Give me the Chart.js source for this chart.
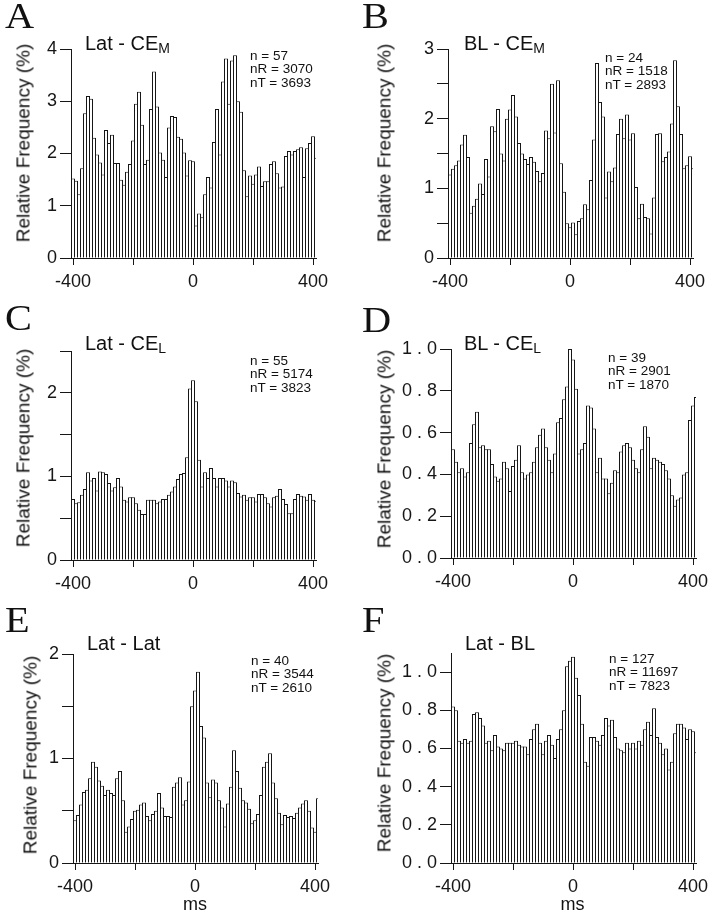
<!DOCTYPE html>
<html>
<head>
<meta charset="utf-8">
<title>Cross-correlation histograms</title>
<script src="https://cdn.jsdelivr.net/npm/chart.js@4.4.1/dist/chart.umd.min.js"></script>
<style>
  html, body { margin: 0; padding: 0; background: #fff; }
  body { width: 710px; height: 923px; position: relative; overflow: hidden;
         font-family: "Liberation Sans", Arial, Helvetica, sans-serif; color: #111; }
  canvas { position: absolute; }
  .t { position: absolute; white-space: nowrap; line-height: 1; }
  .letter { font-family: "Liberation Serif", "Times New Roman", serif; transform-origin: 0 100%; }
  .sub { font-size: 14px; position: relative; top: 3px; }
  .ytitle { position: absolute; white-space: nowrap; line-height: 1; font-size: 19px;
            transform: translate(-50%, -50%) rotate(-90deg); }
</style>
</head>
<body>
<script>
// --- data ------------------------------------------------------------------
// bin centres (ms), 10 ms bins; the last one is only half visible at the right edge
const lagsMs = [];
for (let t = -400; t <= 410; t += 10) lagsMs.push(t);

// relative frequency (%) per bin
const latCEm = [1.52,1.48,1.22,1.72,2.77,3.10,3.05,2.30,1.98,1.83,
  1.60,2.45,2.20,2.36,1.82,1.82,1.50,1.40,1.65,1.80,
  2.25,2.95,3.18,2.55,1.80,1.88,2.85,3.57,2.90,2.02,
  1.88,1.55,2.50,2.72,2.70,2.32,2.28,2.02,1.58,1.87,
  1.85,0.62,0.85,0.78,1.22,1.55,1.35,2.22,2.85,1.98,
  3.38,3.82,2.95,3.78,3.88,3.00,2.80,1.68,1.18,1.58,
  1.42,1.60,1.75,1.38,1.47,1.47,1.80,1.85,1.62,1.35,
  1.37,1.95,2.05,1.98,2.05,2.08,2.12,1.55,2.10,2.20,
  2.33,1.92];
const blCEm = [1.20,1.28,1.33,1.40,1.63,1.77,1.45,0.65,0.75,0.85,
  1.07,0.92,1.42,1.17,1.89,1.82,2.14,1.50,1.40,2.00,
  2.13,2.34,2.03,1.65,1.50,1.42,1.35,1.45,1.38,1.25,
  1.10,1.22,1.83,1.72,2.50,1.80,2.55,1.36,0.95,0.50,
  0.44,0.51,0.34,0.53,0.57,0.77,0.70,1.12,1.70,2.80,
  2.24,2.03,0.87,1.24,1.10,1.30,1.78,2.00,1.72,2.06,
  1.70,1.79,1.02,0.57,0.78,0.59,0.57,0.35,0.87,1.78,
  1.79,1.39,1.45,1.53,1.93,2.84,2.18,1.78,1.29,1.33,
  1.46,1.29];
const latCEl = [0.73,0.68,0.69,0.78,0.85,1.05,0.95,0.98,0.83,1.06,
  1.05,1.03,0.92,0.83,0.87,0.98,0.88,0.72,0.70,0.75,
  0.75,0.68,0.60,0.55,0.55,0.72,0.72,0.72,0.68,0.70,
  0.73,0.73,0.78,0.82,0.88,0.97,1.03,1.04,1.23,2.05,
  2.15,1.90,1.20,0.88,1.05,0.98,1.10,0.98,0.88,0.98,
  0.98,0.95,0.88,0.95,0.93,0.80,0.76,0.78,0.72,0.75,
  0.75,0.70,0.79,0.79,0.75,0.68,0.64,0.75,0.77,0.85,
  0.73,0.67,0.56,0.56,0.73,0.79,0.77,0.76,0.72,0.79,
  0.72,0.71];
const blCEl = [0.52,0.46,0.41,0.43,0.39,0.41,0.55,0.64,0.70,0.53,
  0.54,0.52,0.52,0.45,0.39,0.37,0.38,0.46,0.43,0.32,
  0.44,0.47,0.54,0.41,0.38,0.40,0.41,0.46,0.53,0.59,
  0.62,0.53,0.47,0.41,0.50,0.65,0.67,0.76,0.82,1.00,
  0.95,0.81,0.50,0.52,0.55,0.73,0.72,0.62,0.41,0.48,
  0.38,0.38,0.31,0.36,0.42,0.41,0.51,0.54,0.55,0.53,
  0.47,0.43,0.41,0.52,0.63,0.58,0.43,0.48,0.47,0.46,
  0.45,0.42,0.38,0.30,0.25,0.28,0.29,0.40,0.41,0.66,
  0.73,0.77];
const latLat = [0.41,0.46,0.56,0.68,0.70,0.81,0.97,0.92,0.79,0.74,
  0.65,0.70,0.67,0.65,0.81,0.88,0.60,0.30,0.35,0.42,
  0.50,0.51,0.56,0.58,0.45,0.41,0.47,0.50,0.67,0.53,
  0.45,0.45,0.44,0.73,0.77,0.82,0.56,0.60,0.78,1.50,
  1.65,1.83,1.31,1.20,0.77,0.63,0.80,0.77,0.60,0.53,
  0.35,0.57,0.73,1.08,0.88,0.72,0.60,0.58,0.52,0.38,
  0.41,0.47,0.65,0.92,0.97,1.05,0.77,0.62,0.48,0.37,
  0.46,0.44,0.45,0.43,0.48,0.53,0.57,0.60,0.50,0.34,
  0.30,0.62];
const latBL = [0.82,0.80,0.64,0.63,0.65,0.63,0.64,0.78,0.79,0.76,
  0.72,0.63,0.64,0.59,0.67,0.61,0.60,0.59,0.63,0.63,
  0.63,0.64,0.62,0.61,0.61,0.57,0.65,0.70,0.73,0.63,
  0.57,0.64,0.67,0.62,0.55,0.65,0.70,0.80,1.03,1.06,
  1.08,0.97,0.88,0.73,0.53,0.51,0.66,0.66,0.64,0.62,
  0.67,0.76,0.72,0.75,0.66,0.60,0.59,0.58,0.63,0.60,
  0.63,0.60,0.64,0.62,0.70,0.74,0.67,0.81,0.66,0.63,
  0.57,0.60,0.49,0.53,0.68,0.73,0.73,0.71,0.65,0.70,
  0.69,0.58];

// tick positions and which of them carry a label
const xTicks = [-400, -200, 0, 200, 400];
const xLabels = [-400, 0, 400];
const yTicksA = [0, 1, 2, 3, 4],             yLabelsA = [0, 1, 2, 3, 4];
const yTicksB = [0, 0.5, 1, 1.5, 2, 2.5, 3], yLabelsB = [0, 1, 2, 3];
const yTicksC = [0, 0.5, 1, 1.5, 2, 2.5],    yLabelsC = [0, 1, 2];
const yTicksD = [0, 0.2, 0.4, 0.6, 0.8, 1.0], yLabelsD = [0, 0.2, 0.4, 0.6, 0.8, 1.0];
const yTicksE = [0, 0.5, 1, 1.5, 2],         yLabelsE = [0, 1, 2];
const yTicksF = [0, 0.2, 0.4, 0.6, 0.8, 1.0], yLabelsF = [0, 0.2, 0.4, 0.6, 0.8, 1.0];

// --- layout ------------------------------------------------------------------
const AXIS_W = 75, AXIS_H = 40, PAD_T = 20, PAD_R = 25;
const PX_PER_MS = 0.3, PLOT_W = 245;
// first bar starts exactly on the y axis, every bin is 3 whole pixels
const X_MIN = -400 - 2 / PX_PER_MS;
const X_MAX = X_MIN + PLOT_W / PX_PER_MS;
const INK = '#161616';
const tickFont = { family: '"Liberation Sans", Arial, sans-serif', size: 18 };

const panels = [
  { letter: 'A', values: latCEm, yMax: 4,   yTicks: yTicksA, yLabels: yLabelsA, digits: 0,
    left: 71,  top: 49,  h: 209, title: 'Lat - CE<span class="sub">M</span>',
    stats: ['n = 57', 'nR = 3070', 'nT = 3693'],
    pos: { letter: [5, 28], title: [85, 50], stats: [250, 60], ytitle: [22.5, 143] } },
  { letter: 'B', values: blCEm,  yMax: 3,   yTicks: yTicksB, yLabels: yLabelsB, digits: 0,
    left: 448, top: 49,  h: 209, title: 'BL - CE<span class="sub">M</span>',
    stats: ['n = 24', 'nR = 1518', 'nT = 2893'],
    pos: { letter: [362, 28], title: [464, 50], stats: [605, 62], ytitle: [384, 143] } },
  { letter: 'C', values: latCEl, yMax: 2.5, yTicks: yTicksC, yLabels: yLabelsC, digits: 0,
    left: 71,  top: 351, h: 209, title: 'Lat - CE<span class="sub">L</span>',
    stats: ['n = 55', 'nR = 5174', 'nT = 3823'],
    pos: { letter: [5, 330], title: [85, 350], stats: [250, 365], ytitle: [22.5, 447.5] } },
  { letter: 'D', values: blCEl,  yMax: 1.0, yTicks: yTicksD, yLabels: yLabelsD, digits: 1,
    left: 451, top: 349, h: 209, title: 'BL - CE<span class="sub">L</span>',
    stats: ['n = 39', 'nR = 2901', 'nT = 1870'],
    pos: { letter: [362, 332], title: [464, 350], stats: [608, 362], ytitle: [384, 449] } },
  { letter: 'E', values: latLat, yMax: 2,   yTicks: yTicksE, yLabels: yLabelsE, digits: 0,
    left: 73,  top: 654, h: 209, title: 'Lat - Lat',
    stats: ['n = 40', 'nR = 3544', 'nT = 2610'],
    pos: { letter: [5, 632], title: [87, 650], stats: [251, 665], ytitle: [30, 755], ms: [195, 910] } },
  { letter: 'F', values: latBL,  yMax: 1.1, yTicks: yTicksF, yLabels: yLabelsF, digits: 1,
    left: 451, top: 653, h: 210, title: 'Lat - BL',
    stats: ['n = 127', 'nR = 11697', 'nT = 7823'],
    pos: { letter: [362, 632], title: [465, 650], stats: [609, 663], ytitle: [384, 752.5], ms: [572.5, 910] } }
];

// place a line of text so that its baseline lands on y
function addText(html, x, baseline, size, cls, serif) {
  const d = document.createElement('div');
  d.className = 't' + (cls ? ' ' + cls : '');
  d.style.fontSize = size + 'px';
  d.style.left = x + 'px';
  d.style.top = (baseline - (serif ? 0.8375 : 0.8465) * size) + 'px';
  d.innerHTML = html;
  document.body.appendChild(d);
  return d;
}

// the decimal tick labels of the original are set loosely spaced
const looseLabels = {
  id: 'looseLabels',
  afterLayout(chart, args, opts) {
    const y = chart.scales.y;
    if (!opts.spacing || y._loose) return;
    y._loose = true;
    const base = y.drawLabels;
    y.drawLabels = function (area) {
      this.ctx.save();
      this.ctx.letterSpacing = opts.spacing + 'px';
      base.call(this, area);
      this.ctx.restore();
    };
  }
};

function drawPanel(p) {
  const W = AXIS_W + PLOT_W + PAD_R, H = PAD_T + p.h + AXIS_H;
  const cv = document.createElement('canvas');
  cv.width = W; cv.height = H;
  cv.style.width = W + 'px'; cv.style.height = H + 'px';
  cv.style.left = (p.left - AXIS_W) + 'px';
  cv.style.top = (p.top - PAD_T) + 'px';
  document.body.appendChild(cv);

  // bars one pixel wider than a bin so neighbours share a single outline
  const pxPerBin = PX_PER_MS * 10;
  const barPct = (pxPerBin + 1) / pxPerBin;
  const spacing = p.digits ? 5 : 0;

  new Chart(cv, {
    type: 'bar',
    data: {
      datasets: [{
        data: lagsMs.map((t, i) => ({ x: t, y: p.values[i] })),
        backgroundColor: '#fff',
        borderColor: INK,
        borderWidth: 1,
        barPercentage: barPct,
        categoryPercentage: 1,
        clip: { left: 0, right: 0, top: 3, bottom: 0 }
      }]
    },
    plugins: [looseLabels],
    options: {
      responsive: false,
      animation: false,
      devicePixelRatio: 1,
      layout: { padding: { top: PAD_T, right: PAD_R, bottom: 0, left: 0 } },
      plugins: { legend: { display: false }, tooltip: { enabled: false },
                 looseLabels: { spacing: spacing } },
      scales: {
        x: {
          type: 'linear', min: X_MIN, max: X_MAX, offset: false,
          grid: { display: true, drawOnChartArea: false, drawTicks: true, tickLength: 7, color: INK, offset: false },
          border: { display: true, color: INK, width: 1 },
          ticks: { font: tickFont, color: INK, padding: 6, maxRotation: 0, autoSkip: false,
                   callback: v => xLabels.includes(v) ? String(v) : '' },
          afterBuildTicks: s => { s.ticks = xTicks.map(v => ({ value: v })); },
          afterFit: s => { s.height = AXIS_H; s.paddingLeft = 0; s.paddingRight = 0; }
        },
        y: {
          type: 'linear', min: 0, max: p.yMax,
          grid: { display: true, drawOnChartArea: false, drawTicks: true, tickLength: 11, color: INK },
          border: { display: true, color: INK, width: 1 },
          ticks: { font: tickFont, color: INK, padding: 3 - spacing, autoSkip: false,
                   callback: v => p.yLabels.includes(v) ? v.toFixed(p.digits) : '' },
          afterBuildTicks: s => { s.ticks = p.yTicks.map(v => ({ value: v })); },
          afterFit: s => { s.width = AXIS_W; s.paddingTop = 0; s.paddingBottom = 0; }
        }
      }
    }
  });

  // panel letter, title, counts, axis titles
  const L = addText(p.letter, p.pos.letter[0], p.pos.letter[1], 36, 'letter', true);
  L.style.transform = 'scaleX(1.12)';
  addText(p.title, p.pos.title[0], p.pos.title[1], 20);
  p.stats.forEach((s, i) => addText(s, p.pos.stats[0], p.pos.stats[1] + i * 13.7, 13.5));

  const yt = document.createElement('div');
  yt.className = 'ytitle';
  yt.textContent = 'Relative Frequency (%)';
  yt.style.left = p.pos.ytitle[0] + 'px';
  yt.style.top = p.pos.ytitle[1] + 'px';
  document.body.appendChild(yt);

  if (p.pos.ms) {
    const m = addText('ms', 0, p.pos.ms[1], 18);
    m.style.left = p.pos.ms[0] + 'px';
    m.style.transform = 'translateX(-50%)';
  }
}

panels.forEach(drawPanel);
</script>
</body>
</html>
